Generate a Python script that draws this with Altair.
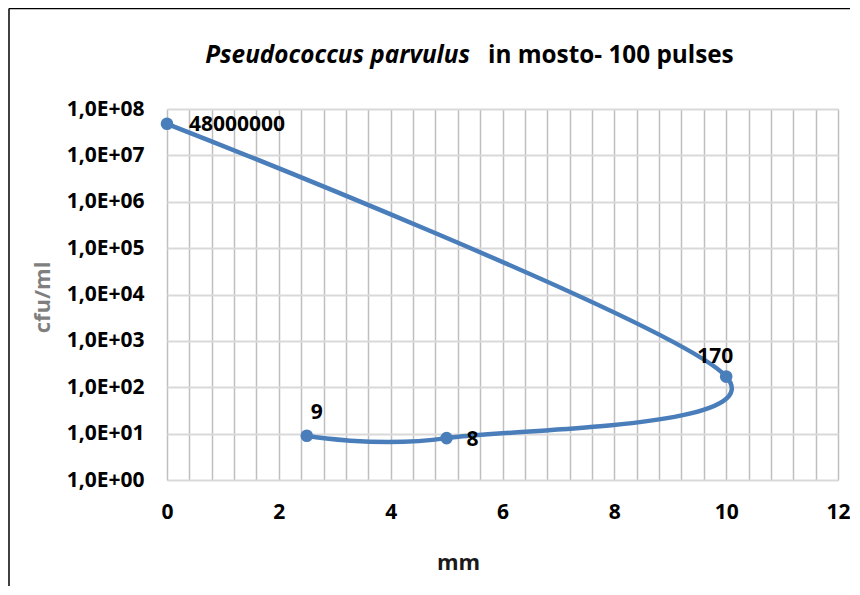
import altair as alt
import pandas as pd

# ---- data ----
mm = [0, 10, 5, 2.5]
cfu = [48000000, 170, 8, 9]
point_labels = ["48000000", "170", "8", "9"]
seq = [0, 1, 2, 3]

x_ticks = [round(i * 0.4, 1) for i in range(31)]
y_ticks = [1, 10, 100, 1000, 10000, 100000, 1000000, 10000000, 100000000]

title_italic = ["Pseudococcus parvulus"]
title_rest = ["in mosto- 100 pulses"]

FONT = "Open Sans"
BLUE = "#4a7ebb"
W, H = 671, 371

df = pd.DataFrame({"mm": mm, "cfu": cfu, "lab": point_labels, "seq": seq})

x_enc = alt.X(
    "mm:Q",
    scale=alt.Scale(domain=[0, 12], nice=False, zero=False),
    axis=alt.Axis(
        values=x_ticks,
        labelExpr="abs(datum.value - round(datum.value/2)*2) < 0.01 ? format(datum.value, 'd') : ''",
        grid=True, gridColor="#bfbfbf", gridWidth=1.5,
        domain=False, ticks=False, tickSize=0,
        labelFont=FONT, labelFontSize=21, labelFontWeight="bold", labelColor="#000000",
        labelPadding=32, labelBaseline="middle", labelOverlap=False, labelFlush=False, labelBound=False,
        title="mm", titleFont=FONT, titleFontSize=22, titleFontWeight="bold", titleColor="#1a1a1a",
        titleX=291, titleY=82, titleAlign="center", titleBaseline="middle",
    ),
)
y_enc = alt.Y(
    "cfu:Q",
    scale=alt.Scale(type="log", domain=[1, 1e8], nice=False),
    axis=alt.Axis(
        values=y_ticks,
        labelExpr="'1,0E+' + (round(log(datum.value)/LN10) < 10 ? '0' : '') + round(log(datum.value)/LN10)",
        grid=True, gridColor="#d9d9d9", gridWidth=2,
        domain=False, ticks=False, tickSize=0,
        labelFont=FONT, labelFontSize=21, labelFontWeight="bold", labelColor="#000000",
        labelPadding=23, labelOverlap=False, labelBound=False, labelFlush=False,
        title="cfu/ml", titleFont=FONT, titleFontSize=22, titleFontWeight="bold", titleColor="#7f7f7f",
        titleX=-125, titleY=188, titleAlign="center", titleBaseline="middle", titleAngle=-90,
    ),
)

base = alt.Chart(df).encode(x=x_enc, y=y_enc)

line = base.mark_line(interpolate="cardinal", color=BLUE, strokeWidth=4.5).encode(order="seq:Q")
pts = base.mark_circle(size=160, color=BLUE, opacity=1)

offsets = [
    (0, "left", 22, 1),
    (1, "center", -11, -20),
    (2, "center", 26, 2),
    (3, "center", 10, -23),
]
texts = []
for idx, align, dx, dy in offsets:
    texts.append(
        base.transform_filter(alt.datum.seq == idx)
        .mark_text(font=FONT, fontSize=21, fontWeight="bold", color="#000000",
                   align=align, baseline="middle", dx=dx, dy=dy)
        .encode(text="lab:N")
    )

t1 = alt.Chart(pd.DataFrame({"t": title_italic})).mark_text(
    font=FONT, fontSize=24.3, fontWeight="bold", fontStyle="italic", color="#000000",
    align="right", baseline="alphabetic"
).encode(x=alt.value(303), y=alt.value(-46), text="t:N")
t2 = alt.Chart(pd.DataFrame({"t": title_rest})).mark_text(
    font=FONT, fontSize=24.3, fontWeight="bold", color="#000000",
    align="left", baseline="alphabetic"
).encode(x=alt.value(321), y=alt.value(-46), text="t:N")

frame_df = pd.DataFrame({"k": [0]})
frame_left = alt.Chart(frame_df).mark_rule(color="#000000", strokeWidth=1.5).encode(
    x=alt.value(-158), y=alt.value(-100.5), y2=alt.value(H + 200))
frame_top = alt.Chart(frame_df).mark_rule(color="#000000", strokeWidth=1.5).encode(
    x=alt.value(-158), x2=alt.value(W + 200), y=alt.value(-100.5))

chart = alt.layer(line, pts, *texts, t1, t2, frame_left, frame_top).properties(
    width=W, height=H,
    autosize=alt.AutoSizeParams(type="none"),
    padding={"left": 159, "top": 101, "right": 12, "bottom": 106},
).configure_view(stroke="#000000", strokeWidth=1.5).configure(background="white")

chart.save("out.html", embed_options={"renderer": "svg", "actions": False})
